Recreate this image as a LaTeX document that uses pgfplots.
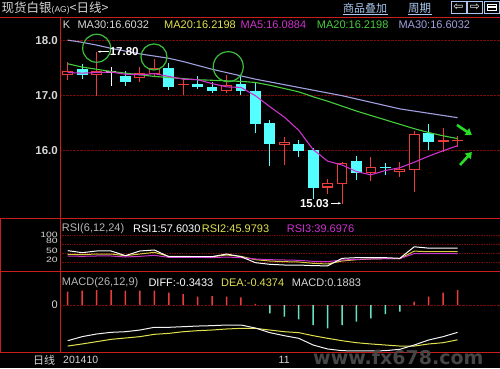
\documentclass[border=0pt]{standalone}
\usepackage{fontspec}
\setmainfont{Liberation Sans}
\newfontfamily\cjk{Noto Sans CJK SC}
\newfontfamily\dejavu{DejaVu Sans}
\usepackage{graphicx}
\usepackage{pgfplots}
\pgfplotsset{compat=1.18}
\usetikzlibrary{arrows.meta}

\definecolor{framered}{RGB}{200,30,30}
\definecolor{gridred}{RGB}{120,10,10}
\definecolor{cred}{RGB}{235,60,60}
\definecolor{ccyan}{RGB}{84,255,255}
\definecolor{ma5}{RGB}{205,50,205}
\definecolor{ma20}{RGB}{70,205,60}
\definecolor{ma30}{RGB}{160,160,225}
\definecolor{hdryel}{RGB}{225,225,80}
\definecolor{circ}{RGB}{60,190,60}
\definecolor{arrowg}{RGB}{40,220,40}
\definecolor{linkblue}{RGB}{170,200,240}
\definecolor{txt}{RGB}{215,215,215}
\definecolor{macdneg}{RGB}{100,225,195}
\definecolor{rsiyel}{RGB}{215,205,60}
\definecolor{wm}{RGB}{70,70,70}

\newcommand{\fs}[1]{\fontsize{#1bp}{#1bp}\selectfont}

\pgfplotsset{
  panel/.style={scale only axis, width=440bp, anchor=south west,
    xmin=0.467, xmax=30.94, xtick=\empty,
    axis line style={draw=none}, major tick length=0pt, minor tick length=0pt,
    tick style={draw=none},
    grid style={gridred, densely dotted, line width=0.7bp},
    minor grid style={gridred, densely dotted, line width=0.7bp},
    yticklabel style={text=txt, inner sep=2bp},
    unbounded coords=jump,
    /pgf/number format/assume math mode=true},
  body/.style={line width=10.8bp, line cap=butt},
}

\begin{document}
\begin{tikzpicture}[x=1bp,y=1bp]
\fill[black] (0,0) rectangle (500,368);
\path[use as bounding box] (0,0) rectangle (500,368);

% ---------------- main price panel ----------------
\begin{axis}[panel, at={(60bp,149.5bp)}, height=201.2bp,
  ymin=14.767, ymax=18.425, ytick={16,17,18}, ymajorgrids,
  yticklabel style={font=\fs{11.5}\bfseries},
  /pgf/number format/.cd, fixed, fixed zerofill, precision=1]
% wicks (low to high) of rising (red) candles
\addplot[cred, line width=1bp] coordinates {
 (1,17.29)(1,17.61) (1,nan) (3,17.00)(3,17.80) (3,nan) (6,17.24)(6,17.52) (6,nan)
 (7,17.35)(7,17.66) (7,nan) (9,17.01)(9,17.30) (9,nan) (12,17.04)(12,17.38) (12,nan)
 (16,15.74)(16,16.24) (16,nan) (19,15.21)(19,15.48) (19,nan) (20,15.03)(20,15.79) (20,nan)
 (22,15.44)(22,15.89) (22,nan) (24,15.53)(24,15.80) (24,nan) (25,15.25)(25,16.36) (25,nan)
 (27,15.98)(27,16.42) (27,nan) (28,16.07)(28,16.27)};
% bodies (open to close) of rising candles
\addplot[cred, body] coordinates {
 (1,17.38)(1,17.45) (1,nan) (3,17.38)(3,17.44) (3,nan) (6,17.32)(6,17.42) (6,nan)
 (7,17.39)(7,17.50) (7,nan) (9,17.20)(9,17.22) (9,nan) (12,17.09)(12,17.19) (12,nan)
 (16,16.10)(16,16.16) (16,nan) (19,15.33)(19,15.42) (19,nan) (20,15.40)(20,15.78) (20,nan)
 (22,15.59)(22,15.70) (22,nan) (24,15.62)(24,15.67) (24,nan) (25,15.65)(25,16.30) (25,nan)
 (27,16.15)(27,16.19) (27,nan) (28,16.18)(28,16.20)};
% hollow inside of the rising bodies
\addplot[black, line width=8.8bp, line cap=butt] coordinates {
 (1,17.399)(1,17.431) (1,nan) (3,17.399)(3,17.421) (3,nan) (6,17.339)(6,17.401) (6,nan)
 (7,17.409)(7,17.481) (7,nan) (12,17.109)(12,17.171) (12,nan)
 (16,16.119)(16,16.141) (16,nan) (19,15.349)(19,15.401) (19,nan) (20,15.419)(20,15.761) (20,nan)
 (22,15.609)(22,15.681) (22,nan) (24,15.639)(24,15.651) (24,nan) (25,15.669)(25,16.281)};
% falling (cyan) candles: wicks and bodies
\addplot[ccyan, line width=1bp] coordinates {
 (2,17.30)(2,17.57) (2,nan) (5,17.18)(5,17.45) (5,nan) (8,17.10)(8,17.59) (8,nan)
 (10,17.12)(10,17.36) (10,nan) (11,17.04)(11,17.24) (11,nan) (13,17.01)(13,17.35) (13,nan)
 (14,16.32)(14,17.23) (14,nan) (15,15.72)(15,16.56) (15,nan) (17,15.88)(17,16.19) (17,nan)
 (18,15.13)(18,16.04) (18,nan) (21,15.47)(21,15.90) (21,nan) (23,15.56)(23,15.78) (23,nan)
 (26,16.01)(26,16.49)};
\addplot[ccyan, body] coordinates {
 (2,17.38)(2,17.48) (2,nan) (5,17.24)(5,17.36) (5,nan) (8,17.15)(8,17.51) (8,nan)
 (10,17.16)(10,17.21) (10,nan) (11,17.09)(11,17.16) (11,nan) (13,17.09)(13,17.21) (13,nan)
 (14,16.48)(14,17.09) (14,nan) (15,16.13)(15,16.50) (15,nan) (17,16.00)(17,16.12) (17,nan)
 (18,15.32)(18,16.01) (18,nan) (21,15.60)(21,15.81) (21,nan) (23,15.69)(23,15.71) (23,nan)
 (26,16.15)(26,16.32)};
% unchanged (white cross) candle
\addplot[white, line width=1bp] coordinates {(4,17.18)(4,17.53)};
\addplot[white, body] coordinates {(4,17.42)(4,17.44)};
% MA30
\addplot[ma30, line width=1.1bp] coordinates {(1,18.01)(2,17.97)(3,17.92)(4,17.86)(5,17.81)(6,17.76)(7,17.72)(8,17.68)(9,17.62)(10,17.55)(11,17.48)(12,17.42)(13,17.36)(14,17.30)(15,17.25)(16,17.20)(17,17.15)(18,17.10)(19,17.05)(20,17.00)(21,16.94)(22,16.88)(23,16.82)(24,16.76)(25,16.72)(26,16.68)(27,16.64)(28,16.60)};
% MA20
\addplot[ma20, line width=1.1bp] coordinates {(1,17.58)(2,17.52)(3,17.48)(4,17.44)(5,17.41)(6,17.38)(7,17.35)(8,17.33)(9,17.31)(10,17.29)(11,17.28)(12,17.27)(13,17.26)(14,17.24)(15,17.19)(16,17.13)(17,17.07)(18,16.98)(19,16.90)(20,16.81)(21,16.72)(22,16.64)(23,16.56)(24,16.48)(25,16.40)(26,16.33)(27,16.27)(28,16.22)};
% MA5
\addplot[ma5, line width=1.1bp] coordinates {(1,17.42)(2,17.41)(3,17.42)(4,17.43)(5,17.39)(6,17.38)(7,17.40)(8,17.35)(9,17.30)(10,17.29)(11,17.22)(12,17.16)(13,17.15)(14,17.00)(15,16.80)(16,16.61)(17,16.37)(18,16.02)(19,15.81)(20,15.74)(21,15.62)(22,15.56)(23,15.64)(24,15.69)(25,15.79)(26,15.90)(27,16.00)(28,16.09)};
% annotations
\draw[circ, line width=1.2bp] (axis cs:3.008,17.862) circle[radius=14bp];
\draw[circ, line width=1.2bp] (axis cs:6.976,17.704) circle[radius=13bp];
\draw[circ, line width=1.2bp] (axis cs:12.12,17.527) circle[radius=15bp];
\draw[arrowg, line width=2.6bp, -{Triangle[length=6bp,width=8bp]}] (axis cs:27.96,16.467) -- (axis cs:28.99,16.285);
\draw[arrowg, line width=2.6bp, -{Triangle[length=6bp,width=8bp]}] (axis cs:28.17,15.74) -- (axis cs:28.99,15.976);
\draw[white, line width=0.8bp, {Stealth[length=3bp]}-] ([xshift=1bp]axis cs:3,17.80) -- ([xshift=12bp]axis cs:3,17.80);
\node[anchor=west, inner sep=1bp, text=white, font=\fs{11.5}\bfseries] at ([xshift=12bp]axis cs:3,17.80) {17.80};
\draw[white, line width=0.8bp, -{Stealth[length=3bp]}] ([xshift=-11bp]axis cs:20,15.044) -- ([xshift=-1bp]axis cs:20,15.044);
\node[anchor=east, inner sep=1bp, text=white, font=\fs{11.5}\bfseries] at ([xshift=-12bp]axis cs:20,15.044) {15.03};
\end{axis}

% ---------------- RSI panel ----------------
\begin{axis}[panel, at={(60bp,96.7bp)}, height=52.8bp,
  ymin=-17.1, ymax=153.2, ytick={20,50,80,100},
  yticklabel={\scalebox{0.95}[0.7]{\pgfmathprintnumber{\tick}}},
  yticklabel style={font=\fs{11}},
  minor ytick={12,41,70,98}, yminorgrids]
\addplot[rsiyel, line width=1bp] coordinates {(1,37.6)(2,36.6)(3,38.7)(4,38.7)(5,33.3)(6,38.7)(7,44.1)(8,31.2)(9,31.2)(10,30.1)(11,30.1)(12,35.5)(13,31.2)(14,20.4)(15,16.1)(16,14.0)(17,12.9)(18,8.6)(19,6.5)(20,16.1)(21,20.4)(22,22.6)(23,23.7)(24,23.7)(25,48.0)(26,46.0)(27,46.0)(28,46.0)};
\addplot[ma5, line width=1bp] coordinates {(1,32.3)(2,31.2)(3,32.3)(4,32.3)(5,29.0)(6,31.2)(7,34.4)(8,28.0)(9,28.0)(10,28.0)(11,26.9)(12,29.0)(13,26.9)(14,22.6)(15,20.4)(16,19.4)(17,18.3)(18,15.1)(19,14.0)(20,19.4)(21,21.5)(22,22.6)(23,23.7)(24,23.7)(25,40.0)(26,39.7)(27,39.7)(28,39.7)};
\addplot[white, line width=1bp] coordinates {(1,49.5)(2,43.0)(3,48.4)(4,48.4)(5,33.3)(6,48.4)(7,51.6)(8,30.1)(9,30.1)(10,30.1)(11,30.1)(12,38.7)(13,30.1)(14,10.8)(15,5.4)(16,3.2)(17,3.2)(18,1.1)(19,0.5)(20,24.7)(21,26.9)(22,26.9)(23,26.9)(24,24.7)(25,62.0)(26,57.6)(27,57.6)(28,57.6)};
\end{axis}

% ---------------- MACD panel ----------------
\begin{axis}[panel, at={(60bp,15.3bp)}, height=81.4bp,
  ymin=-0.5986, ymax=0.4229, ytick={0}, ymajorgrids,
  yticklabel style={font=\fs{11}},
  /pgf/number format/.cd, fixed, precision=0]
\addplot[ybar, bar width=1.5bp, bar shift=0bp, fill=cred, draw=none] coordinates {(1,0.167)(2,0.180)(3,0.188)(4,0.188)(5,0.180)(6,0.180)(7,0.180)(8,0.155)(9,0.138)(10,0.105)(11,0.113)(12,0.105)(13,0.096)(14,0.013)(25,0.042)(26,0.105)(27,0.155)(28,0.188)};
\addplot[ybar, bar width=1.5bp, bar shift=0bp, fill=macdneg, draw=none] coordinates {(15,-0.105)(16,-0.146)(17,-0.180)(18,-0.251)(19,-0.293)(20,-0.251)(21,-0.209)(22,-0.167)(23,-0.113)(24,-0.084)};
\addplot[hdryel, line width=1bp] coordinates {(1,-0.515)(2,-0.489)(3,-0.460)(4,-0.431)(5,-0.414)(6,-0.397)(7,-0.368)(8,-0.356)(9,-0.335)(10,-0.322)(11,-0.314)(12,-0.301)(13,-0.293)(14,-0.293)(15,-0.314)(16,-0.335)(17,-0.347)(18,-0.385)(19,-0.418)(20,-0.448)(21,-0.473)(22,-0.489)(23,-0.502)(24,-0.515)(25,-0.515)(26,-0.489)(27,-0.473)(28,-0.437)};
\addplot[white!90!gray, line width=1bp] coordinates {(1,-0.448)(2,-0.397)(3,-0.364)(4,-0.343)(5,-0.335)(6,-0.314)(7,-0.280)(8,-0.280)(9,-0.272)(10,-0.264)(11,-0.259)(12,-0.251)(13,-0.251)(14,-0.289)(15,-0.347)(16,-0.385)(17,-0.418)(18,-0.502)(19,-0.552)(20,-0.573)(21,-0.577)(22,-0.577)(23,-0.573)(24,-0.556)(25,-0.502)(26,-0.439)(27,-0.397)(28,-0.343)};
\end{axis}

% ---------------- frame lines ----------------
\draw[framered, line width=1bp] (0,350.7) -- (500,350.7);
\draw[framered, line width=1bp] (0,149.5) -- (500,149.5);
\draw[framered, line width=1bp] (0,96.7) -- (500,96.7);
\draw[framered, line width=1bp] (0,15.3) -- (500,15.3);
\draw[framered, line width=1bp] (60,15.3) -- (60,350.7);
\draw[framered, line width=1bp] (0.5,15.3) -- (0.5,149.5);

% ---------------- title bar ----------------
\node[anchor=west, inner sep=0, text=txt] at (1.5,359.5) {\cjk\fs{12.5}现货白银\fontspec{Liberation Sans}\fs{8.5}(AG)\cjk\fs{12.5}<日线>};
\node[anchor=west, inner sep=0, text=linkblue] at (343,360) {\cjk\fs{11}商品叠加};
\draw[linkblue, line width=0.7bp] (343,353.8) -- (388,353.8);
\node[anchor=west, inner sep=0, text=linkblue] at (408,360) {\cjk\fs{11.5}周期};
\draw[linkblue, line width=0.7bp] (408,353.8) -- (432,353.8);
\draw[linkblue, line width=0.9bp] (451,355) rectangle (466,367);
\draw[linkblue, line width=0.9bp] (467.5,355) rectangle (482.5,367);
\draw[linkblue, line width=0.9bp] (484,355) rectangle (499.5,367);
\node[text=white, inner sep=0] at (458.5,361) {\dejavu\fs{12}⇦};
\node[text=white, inner sep=0] at (475,361) {\dejavu\fs{12}⇨};
\draw[white, line width=0.8bp] (487,358) rectangle (496.5,364);
\draw[white, line width=1.2bp] (487,361) -- (496.5,361);

% ---------------- panel headers ----------------
\begin{scope}[every node/.style={anchor=west, inner sep=0}]
\node[text=txt] at (62.7,343) {\fs{11}K};
\node[text=txt] at (77.3,343) {\fs{11}MA30:16.6032};
\node[text=hdryel] at (164,343) {\fs{11}MA20:16.2198};
\node[text=ma5] at (240.5,343) {\fs{11}MA5:16.0884};
\node[text=ma20] at (316.7,343) {\fs{11}MA20:16.2198};
\node[text=ma30] at (398.3,343) {\fs{11}MA30:16.6032};

\node[text=txt!85!black] at (61.7,139.7) {\fs{11}RSI(6,12,24)};
\node[text=white] at (133,139.7) {\fs{11}RSI1:57.6030};
\node[text=hdryel] at (201.7,139.7) {\fs{11}RSI2:45.9793};
\node[text=ma5] at (286.7,139.7) {\fs{11}RSI3:39.6976};

\node[text=txt!85!black] at (61.7,85.3) {\fs{11}MACD(26,12,9)};
\node[text=white] at (148.3,85.3) {\fs{11}DIFF:-0.3433};
\node[text=hdryel] at (221,85.3) {\fs{11}DEA:-0.4374};
\node[text=txt] at (291.7,85.3) {\fs{11}MACD:0.1883};

\node[text=txt] at (33,8) {\cjk\fs{11}日线};
\node[text=txt] at (63,8) {\fs{10.5}201410};
\node[text=txt] at (278.5,8) {\fs{10.5}11};
\end{scope}
\node[anchor=base west, inner sep=0, text=wm] at (313,3.5) {\dejavu\bfseries\fs{19}www.fx678.com};
\end{tikzpicture}
\end{document}
